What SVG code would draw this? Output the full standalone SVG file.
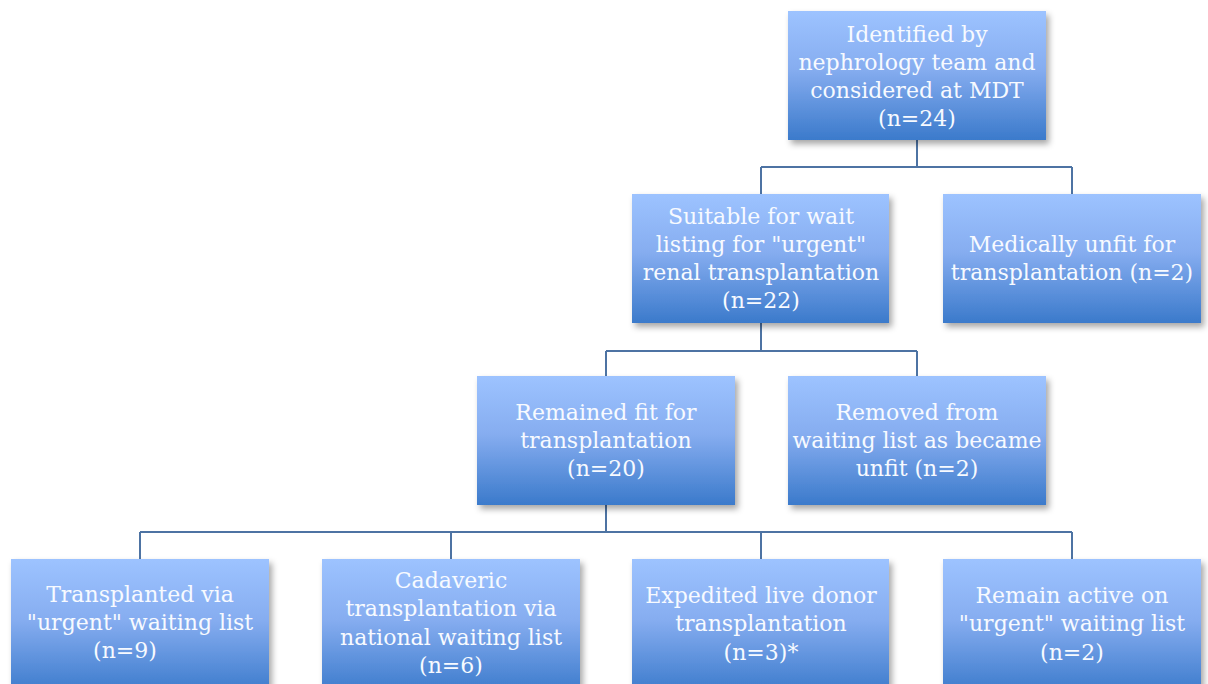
<svg xmlns="http://www.w3.org/2000/svg" width="1208" height="684" viewBox="0 0 1208 684">
  <defs>
    <linearGradient id="grad" x1="0" y1="0" x2="0" y2="1">
      <stop offset="0" stop-color="#9dc3ff"/>
      <stop offset="0.45" stop-color="#86adf0"/>
      <stop offset="1" stop-color="#3b7acb"/>
    </linearGradient>
    <filter id="shadow" x="-10%" y="-10%" width="125%" height="130%">
      <feDropShadow dx="3" dy="4" stdDeviation="3" flood-color="#000" flood-opacity="0.35"/>
    </filter>
    <style>
      .box { fill: url(#grad); filter: url(#shadow); }
      .t { font-family: "DejaVu Serif", "Liberation Serif", serif; font-size: 22px; fill: #f7faff; text-anchor: middle; }
      .conn { fill: none; stroke: #4d73a3; stroke-width: 2; }
    </style>
  </defs>
  <rect width="1208" height="684" fill="#ffffff"/>

  <g id="connectors">
    <path class="conn" d="M917,140 V167 M761,167 H1072 M761,167 V194 M1072,167 V194"/>
    <path class="conn" d="M761,323 V351 M606,351 H917 M606,351 V376 M917,351 V376"/>
    <path class="conn" d="M606,505 V532 M140,532 H1072 M140,532 V559 M451,532 V559 M761,532 V559 M1072,532 V559"/>
  </g>

  <g id="n1">
    <rect class="box" x="788" y="11" width="258" height="129"/>
    <text class="t" x="917" y="42">Identified by</text>
    <text class="t" x="917" y="70">nephrology team and</text>
    <text class="t" x="917" y="98">considered at MDT</text>
    <text class="t" x="917" y="126">(n=24)</text>
  </g>
  <g id="n2">
    <rect class="box" x="632" y="194" width="257" height="129"/>
    <text class="t" x="761" y="224">Suitable for wait</text>
    <text class="t" x="761" y="252">listing for "urgent"</text>
    <text class="t" x="761" y="280">renal transplantation</text>
    <text class="t" x="761" y="308">(n=22)</text>
  </g>
  <g id="n3">
    <rect class="box" x="943" y="194" width="258" height="129"/>
    <text class="t" x="1072" y="252">Medically unfit for</text>
    <text class="t" x="1072" y="280">transplantation (n=2)</text>
  </g>
  <g id="n4">
    <rect class="box" x="477" y="376" width="258" height="129"/>
    <text class="t" x="606" y="420">Remained fit for</text>
    <text class="t" x="606" y="448">transplantation</text>
    <text class="t" x="606" y="476">(n=20)</text>
  </g>
  <g id="n5">
    <rect class="box" x="788" y="376" width="258" height="129"/>
    <text class="t" x="917" y="420">Removed from</text>
    <text class="t" x="917" y="448">waiting list as became</text>
    <text class="t" x="917" y="476">unfit (n=2)</text>
  </g>
  <g id="n6">
    <rect class="box" x="11" y="559" width="258" height="135"/>
    <text class="t" x="140" y="602">Transplanted via</text>
    <text class="t" x="140" y="630">"urgent" waiting list</text>
    <text class="t" x="125" y="658">(n=9)</text>
  </g>
  <g id="n7">
    <rect class="box" x="322" y="559" width="258" height="135"/>
    <text class="t" x="451" y="588">Cadaveric</text>
    <text class="t" x="451" y="616">transplantation via</text>
    <text class="t" x="451" y="645">national waiting list</text>
    <text class="t" x="451" y="673">(n=6)</text>
  </g>
  <g id="n8">
    <rect class="box" x="632" y="559" width="257" height="135"/>
    <text class="t" x="761" y="603">Expedited live donor</text>
    <text class="t" x="761" y="631">transplantation</text>
    <text class="t" x="761" y="660">(n=3)*</text>
  </g>
  <g id="n9">
    <rect class="box" x="943" y="559" width="258" height="135"/>
    <text class="t" x="1072" y="603">Remain active on</text>
    <text class="t" x="1072" y="631">"urgent" waiting list</text>
    <text class="t" x="1072" y="660">(n=2)</text>
  </g>
</svg>
